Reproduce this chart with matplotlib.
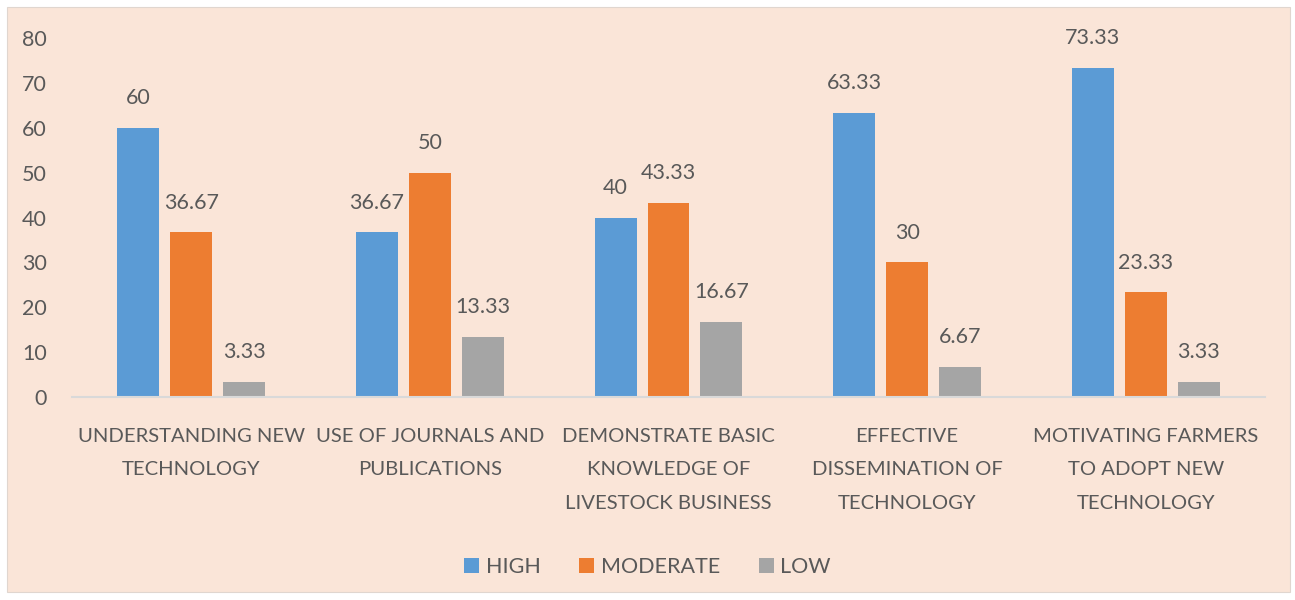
import matplotlib
matplotlib.use('Agg')
import matplotlib.pyplot as plt
from matplotlib.patches import Rectangle
import numpy as np

CATEGORIES = ['UNDERSTANDING NEW\nTECHNOLOGY', 'USE OF JOURNALS AND\nPUBLICATIONS',
              'DEMONSTRATE BASIC\nKNOWLEDGE OF\nLIVESTOCK BUSINESS',
              'EFFECTIVE\nDISSEMINATION OF\nTECHNOLOGY',
              'MOTIVATING FARMERS\nTO ADOPT NEW\nTECHNOLOGY']
HIGH = [60, 36.67, 40, 63.33, 73.33]
MODERATE = [36.67, 50, 43.33, 30, 23.33]
LOW = [3.33, 13.33, 16.67, 6.67, 3.33]
SERIES = ['HIGH', 'MODERATE', 'LOW']
COLORS = ['#5B9BD5', '#ED7D31', '#A5A5A5']

BG = '#FAE5D8'
TXT = '#595959'
plt.rcParams['font.family'] = ['Lato', 'DejaVu Sans']

fig = plt.figure(figsize=(12.95, 6), dpi=100)
fig.patch.set_facecolor('white')
fig.patches.append(Rectangle((7 / 1295, 8 / 600), 1283 / 1295, 585 / 600,
                             transform=fig.transFigure, facecolor=BG,
                             edgecolor='#E0D6CF', linewidth=0.8, zorder=-10))

ax = fig.add_axes([72 / 1295, 1 - 397 / 600, 1193 / 1295, 359 / 600])
ax.set_facecolor('none')

x = np.arange(len(CATEGORIES))
width = 0.176
step = 0.222
for i, (vals, name, col) in enumerate(zip([HIGH, MODERATE, LOW], SERIES, COLORS)):
    pos = x + (i - 1) * step
    bars = ax.bar(pos, vals, width, color=col, label=name, zorder=2)
    for b, v in zip(bars, vals):
        ax.text(b.get_x() + b.get_width() / 2, v + 4.4, f'{v:g}',
                ha='center', va='bottom', fontsize=15.5, color=TXT)

ax.set_xlim(-0.5, len(CATEGORIES) - 0.5)
ax.set_ylim(0, 80)
ax.set_yticks(range(0, 81, 10))
ax.tick_params(axis='y', length=0, labelsize=15.5, labelcolor=TXT, pad=18)
ax.tick_params(axis='x', length=0, labelsize=14.6, labelcolor=TXT, pad=22)
ax.set_xticks(x)
ax.set_xticklabels(CATEGORIES, linespacing=2.2, va='top')
for s in ['top', 'right', 'left']:
    ax.spines[s].set_visible(False)
ax.spines['bottom'].set_color('#D9D9D9')
ax.spines['bottom'].set_linewidth(1.5)

leg = fig.legend(loc='center', bbox_to_anchor=(0.5, 1 - 567 / 600), ncol=3,
                 frameon=False, fontsize=15.5, handlelength=0.7, handleheight=0.7,
                 handletextpad=0.3, columnspacing=1.8)
for t in leg.get_texts():
    t.set_color(TXT)

fig.savefig('out.png', dpi=100)
